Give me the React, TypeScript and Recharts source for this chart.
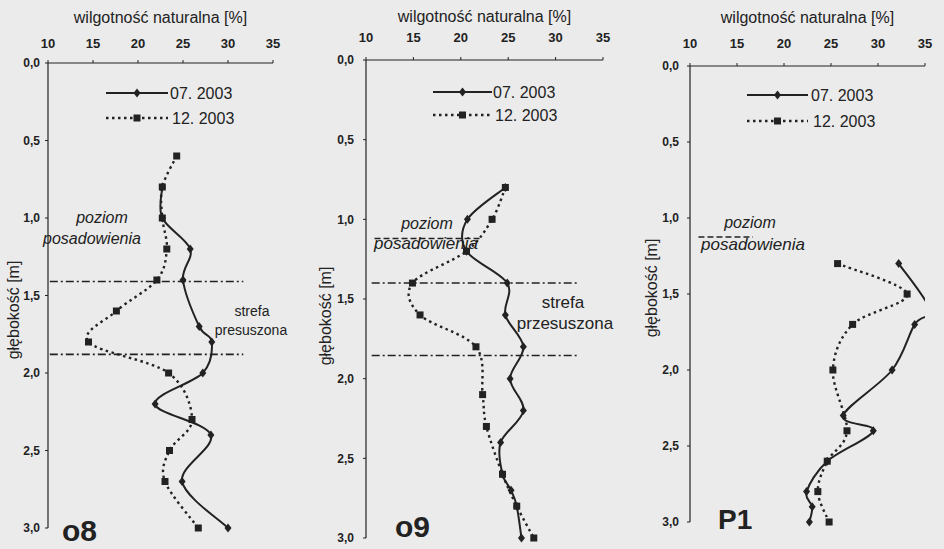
import React from 'react';
import { ScatterChart, Scatter, XAxis, YAxis, ReferenceLine } from 'recharts';

const FONT = '"Liberation Sans", Arial, Helvetica, sans-serif';
const INK = '#222222';
const BG = '#ebebeb';

// ---- shared axis data ----
const moistureTicks = [10, 15, 20, 25, 30, 35];
const depthTicks = [0, 0.5, 1, 1.5, 2, 2.5, 3];
const seriesNames = ['07. 2003', '12. 2003'];
const xTitle = 'wilgotność naturalna [%]';
const yTitle = 'głębokość [m]';
const panelNames = ['o8', 'o9', 'P1'];

// ---- o8 ----
const o8JulDepth = [0.8, 1.0, 1.2, 1.4, 1.7, 1.8, 2.0, 2.2, 2.4, 2.7, 3.0];
const o8JulMoisture = [22.7, 22.7, 25.8, 25.0, 26.8, 28.2, 27.2, 21.9, 28.1, 24.9, 30.0];
const o8DecDepth = [0.6, 0.8, 1.0, 1.2, 1.4, 1.6, 1.8, 2.0, 2.3, 2.5, 2.7, 3.0];
const o8DecMoisture = [24.3, 22.7, 22.7, 23.2, 22.1, 17.6, 14.5, 23.4, 26.0, 23.5, 23.0, 26.7];
const o8DryZone = [1.41, 1.88];

// ---- o9 ----
const o9JulDepth = [0.8, 1.0, 1.2, 1.4, 1.6, 1.8, 2.0, 2.2, 2.4, 2.6, 2.7, 2.8, 3.0];
const o9JulMoisture = [24.7, 20.7, 20.6, 24.9, 24.7, 26.6, 25.2, 26.6, 24.2, 24.4, 25.3, 25.9, 26.4];
const o9DecDepth = [0.8, 1.0, 1.2, 1.4, 1.6, 1.8, 2.1, 2.3, 2.6, 2.8, 3.0];
const o9DecMoisture = [24.7, 23.3, 20.6, 14.9, 15.7, 21.6, 22.3, 22.7, 24.4, 25.9, 27.7];
const o9DryZone = [1.40, 1.855];
const o9Footing = 1.12;

// ---- P1 ----
const p1JulDepth = [1.3, 1.6, 1.7, 2.0, 2.3, 2.4, 2.6, 2.8, 2.9, 3.0];
const p1JulMoisture = [32.2, 35.5, 33.9, 31.5, 26.3, 29.5, 24.6, 22.4, 23.0, 22.7];
const p1DecDepth = [1.3, 1.5, 1.7, 2.0, 2.4, 2.6, 2.8, 3.0];
const p1DecMoisture = [25.7, 33.1, 27.3, 25.2, 26.7, 24.6, 23.6, 24.8];
const p1Footing = 1.125;

type Pt = { depth: number; moisture: number };
const toPoints = (d: number[], m: number[]): Pt[] => d.map((depth, i) => ({ depth, moisture: m[i] }));

// Excel-like smoothed line (cubic Bezier through the points)
const smoothCurve: any = (context: any) => {
  let pts: number[][] = [];
  return {
    areaStart() {},
    areaEnd() {},
    lineStart() {
      pts = [];
    },
    point(x: number, y: number) {
      pts.push([+x, +y]);
    },
    lineEnd() {
      const n = pts.length;
      if (!n) return;
      context.moveTo(pts[0][0], pts[0][1]);
      const k = 1 / 6;
      for (let i = 0; i < n - 1; i++) {
        const p0 = pts[Math.max(i - 1, 0)];
        const p1 = pts[i];
        const p2 = pts[i + 1];
        const p3 = pts[Math.min(i + 2, n - 1)];
        context.bezierCurveTo(
          p1[0] + (p2[0] - p0[0]) * k,
          p1[1] + (p2[1] - p0[1]) * k,
          p2[0] - (p3[0] - p1[0]) * k,
          p2[1] - (p3[1] - p1[1]) * k,
          p2[0],
          p2[1]
        );
      }
    },
  };
};

const DiamondMark = (p: any) => {
  if (p.payload && p.payload.moisture > 35) return <g />;
  const { cx, cy } = p;
  return <polygon points={`${cx},${cy - 4.5} ${cx + 3.5},${cy} ${cx},${cy + 4.5} ${cx - 3.5},${cy}`} fill={INK} />;
};
const SquareMark = (p: any) => <rect x={p.cx - 3.5} y={p.cy - 3.5} width={7} height={7} fill={INK} />;

const DASH = '2.5 3.5';
const DASHDOT = '8 3 2 3';

interface PanelCfg {
  left: number;
  width: number;
  margin: { top: number; right: number; bottom: number; left: number };
  xTickMargin: number;
  yTickMargin: number;
  titleY: number;
  yTitleX: number;
  yTitleY: number;
  jul: Pt[];
  dec: Pt[];
  dry?: number[];
  dryFrom?: number;
  dryTo?: number;
  footing?: number;
  footFrom?: number;
  footTo?: number;
}

const panels: PanelCfg[] = [
  {
    left: 0, width: 310, margin: { top: 43, right: 37, bottom: 21, left: 10 },
    xTickMargin: 12, yTickMargin: 5, titleY: 23, yTitleX: 13, yTitleY: 310,
    jul: toPoints(o8JulDepth, o8JulMoisture), dec: toPoints(o8DecDepth, o8DecMoisture),
    dry: o8DryZone, dryFrom: 10.2, dryTo: 31.7,
  },
  {
    left: 310, width: 310, margin: { top: 40, right: 17, bottom: 11, left: 18 },
    xTickMargin: 15, yTickMargin: 9, titleY: 22, yTitleX: 15, yTitleY: 316,
    jul: toPoints(o9JulDepth, o9JulMoisture), dec: toPoints(o9DecDepth, o9DecMoisture),
    dry: o9DryZone, dryFrom: 10.6, dryTo: 32.3,
    footing: o9Footing, footFrom: 10.9, footTo: 22.3,
  },
  {
    left: 620, width: 324, margin: { top: 46, right: 19, bottom: 27, left: 32 },
    xTickMargin: 15, yTickMargin: 8, titleY: 23, yTitleX: 31, yTitleY: 288,
    jul: toPoints(p1JulDepth, p1JulMoisture), dec: toPoints(p1DecDepth, p1DecMoisture),
    footing: p1Footing, footFrom: 10.9, footTo: 16.7,
  },
];

const fmtDepth = (v: number) => v.toFixed(1).replace('.', ',');

function Panel({ cfg }: { cfg: PanelCfg }) {
  const xLabel = {
    content: (props: any) => {
      const vb = props.viewBox || {};
      return (
        <text x={vb.x + vb.width / 2} y={cfg.titleY} textAnchor="middle" fill={INK} fontSize={16} fontFamily={FONT}>
          {xTitle}
        </text>
      );
    },
  };
  const yLabel = {
    content: () => (
      <text
        x={cfg.yTitleX}
        y={cfg.yTitleY}
        transform={`rotate(-90 ${cfg.yTitleX} ${cfg.yTitleY})`}
        textAnchor="middle"
        dominantBaseline="central"
        fill={INK}
        fontSize={16}
        fontFamily={FONT}
      >
        {yTitle}
      </text>
    ),
  };
  return (
    <div style={{ position: 'absolute', left: cfg.left, top: 0 }}>
      <ScatterChart width={cfg.width} height={549} margin={cfg.margin}>
        <XAxis
          type="number"
          dataKey="moisture"
          orientation="top"
          domain={[10, 35]}
          ticks={moistureTicks}
          interval={0}
          allowDataOverflow
          height={20}
          tickSize={3}
          tickMargin={cfg.xTickMargin}
          axisLine={{ stroke: INK, strokeWidth: 1.2 }}
          tickLine={{ stroke: INK }}
          tick={{ fill: INK, fontSize: 13, fontWeight: 700, fontFamily: FONT }}
          label={xLabel}
        />
        <YAxis
          type="number"
          dataKey="depth"
          domain={[0, 3]}
          reversed
          ticks={depthTicks}
          interval={0}
          width={38}
          tickSize={3}
          tickMargin={cfg.yTickMargin}
          tickFormatter={fmtDepth}
          axisLine={{ stroke: INK, strokeWidth: 1.2 }}
          tickLine={{ stroke: INK }}
          tick={{ fill: INK, fontSize: 12, fontWeight: 700, fontFamily: FONT }}
          label={yLabel}
        />
        {cfg.dry &&
          cfg.dry.map((d) => (
            <ReferenceLine
              key={d}
              segment={[{ x: cfg.dryFrom, y: d }, { x: cfg.dryTo, y: d }]}
              stroke={INK}
              strokeWidth={1.6}
              strokeDasharray={DASHDOT}
            />
          ))}
        {cfg.footing !== undefined && (
          <ReferenceLine
            segment={[{ x: cfg.footFrom, y: cfg.footing }, { x: cfg.footTo, y: cfg.footing }]}
            stroke={INK}
            strokeWidth={1.6}
            strokeDasharray="6 3"
          />
        )}
        <Scatter
          name={seriesNames[1]}
          data={cfg.dec}
          fill={INK}
          line={{ stroke: INK, strokeWidth: 2.4, strokeDasharray: DASH }}
          lineJointType={smoothCurve}
          shape={SquareMark}
          isAnimationActive={false}
        />
        <Scatter
          name={seriesNames[0]}
          data={cfg.jul}
          fill={INK}
          line={{ stroke: INK, strokeWidth: 2 }}
          lineJointType={smoothCurve}
          shape={DiamondMark}
          isAnimationActive={false}
        />
      </ScatterChart>
    </div>
  );
}

function LegendBox({ x1, x2, y1, y2, tx }: { x1: number; x2: number; y1: number; y2: number; tx: number }) {
  const mx = (x1 + x2) / 2;
  return (
    <g>
      <line x1={x1} x2={x2} y1={y1} y2={y1} stroke={INK} strokeWidth={2} />
      <polygon points={`${mx},${y1 - 4.5} ${mx + 3.5},${y1} ${mx},${y1 + 4.5} ${mx - 3.5},${y1}`} fill={INK} />
      <text x={tx} y={y1 + 6} fontSize={16} fill={INK} fontFamily={FONT}>{seriesNames[0]}</text>
      <line x1={x1} x2={x2} y1={y2} y2={y2} stroke={INK} strokeWidth={2.4} strokeDasharray={DASH} />
      <rect x={mx - 3.5} y={y2 - 3.5} width={7} height={7} fill={INK} />
      <text x={tx + 2} y={y2 + 6} fontSize={16} fill={INK} fontFamily={FONT}>{seriesNames[1]}</text>
    </g>
  );
}

export default function App() {
  const txt = { fill: INK, fontFamily: FONT } as const;
  return (
    <div style={{ position: 'absolute', left: 0, top: 0, width: 944, height: 549, background: BG, overflow: 'hidden', fontFamily: FONT }}>
      {panels.map((p, i) => (
        <Panel key={i} cfg={p} />
      ))}
      <svg width={944} height={549} style={{ position: 'absolute', left: 0, top: 0, pointerEvents: 'none' }}>
        <LegendBox x1={106} x2={168} y1={93} y2={118} tx={170} />
        <LegendBox x1={433} x2={492} y1={92} y2={115} tx={493} />
        <LegendBox x1={747} x2={808} y1={95} y2={121} tx={811} />

        <text x={102} y={223} textAnchor="middle" fontSize={16} fontStyle="italic" {...txt}>poziom</text>
        <text x={92} y={244} textAnchor="middle" fontSize={16} fontStyle="italic" {...txt}>posadowienia</text>
        <text x={252} y={316} textAnchor="middle" fontSize={14} {...txt}>strefa</text>
        <text x={251} y={335} textAnchor="middle" fontSize={14} {...txt}>presuszona</text>
        <text x={62} y={541} fontSize={30} fontWeight={700} {...txt}>{panelNames[0]}</text>

        <text x={427} y={229} textAnchor="middle" fontSize={16} fontStyle="italic" {...txt}>poziom</text>
        <text x={426} y={249} textAnchor="middle" fontSize={17} fontStyle="italic" {...txt}>posadowienia</text>
        <text x={563} y={308} textAnchor="middle" fontSize={17} {...txt}>strefa</text>
        <text x={565} y={329} textAnchor="middle" fontSize={17} {...txt}>przesuszona</text>
        <text x={395} y={537} fontSize={30} fontWeight={700} {...txt}>{panelNames[1]}</text>

        <text x={750} y={228} textAnchor="middle" fontSize={16} fontStyle="italic" {...txt}>poziom</text>
        <text x={753} y={250} textAnchor="middle" fontSize={17} fontStyle="italic" {...txt}>posadowienia</text>
        <text x={718} y={529} fontSize={28} fontWeight={700} {...txt}>{panelNames[2]}</text>
      </svg>
    </div>
  );
}
